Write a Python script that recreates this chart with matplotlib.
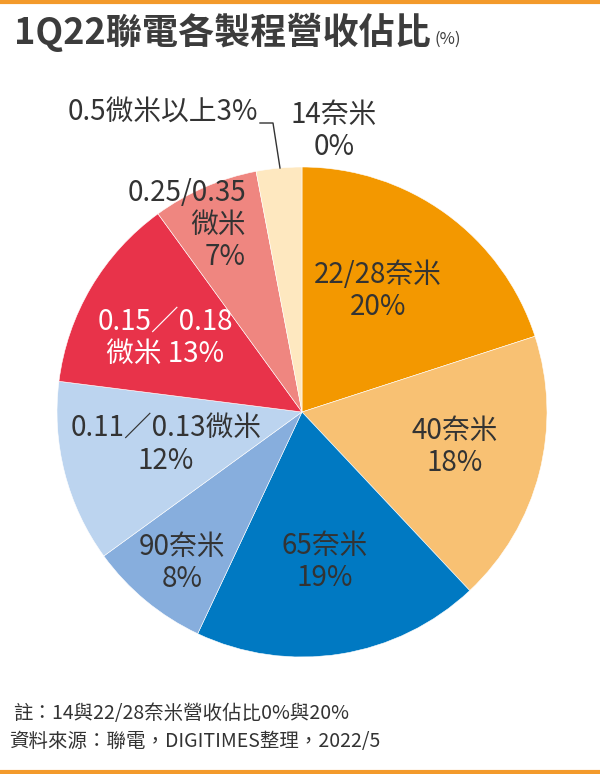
import matplotlib
matplotlib.use("Agg")
import matplotlib.pyplot as plt
from matplotlib.lines import Line2D

plt.rcParams['font.family'] = ['Noto Sans CJK TC', 'DejaVu Sans']

# data, clockwise from 12 o'clock
nodes = ['14奈米', '22/28奈米', '40奈米', '65奈米', '90奈米',
         '0.11／0.13微米', '0.15／0.18微米', '0.25/0.35微米', '0.5微米以上']
shares = [0, 20, 18, 19, 8, 12, 13, 7, 3]
label_texts = ['14奈米\n0%', '22/28奈米\n20%', '40奈米\n18%', '65奈米\n19%', '90奈米\n8%',
               '0.11／0.13微米\n12%', '0.15／0.18\n微米 13%', '0.25/0.35\n微米\n7%', '0.5微米以上3%']
colors = ['#FFFFFF', '#F39800', '#F8C173', '#0079C2', '#87AEDD',
          '#BCD4EF', '#E8334A', '#EF8680', '#FEE8C0']

W, H = 600, 774
CX, CY, R = 302, 412, 245

def px(x, y):
    # pixel position (from top-left) -> pie data coords
    return (x - CX) / R, (CY - y) / R

# label anchor pixels and styles
label_pos = [(334, 131), (378, 291), (455, 447), (325, 562), (182, 563),
             (166, 445), (165, 338), (246, 225), (163, 112)]
label_ha = ['center'] * 7 + ['right', 'center']
label_col = ['#333333'] * 6 + ['white', '#333333', '#333333']

fig = plt.figure(figsize=(W / 100, H / 100), dpi=100)
ax = fig.add_axes([(CX - R) / W, (H - CY - R) / H, 2 * R / W, 2 * R / H])
ax.pie(shares, colors=colors, startangle=90, counterclock=False, radius=1,
       wedgeprops=dict(edgecolor='white', linewidth=0.4))
ax.set_xlim(-1, 1)
ax.set_ylim(-1, 1)
ax.set_aspect('equal')
ax.axis('off')

for txt, pos, ha, col in zip(label_texts, label_pos, label_ha, label_col):
    x, y = px(*pos)
    ax.text(x, y, txt, ha=ha, va='center', multialignment=ha, fontsize=20,
            color=col, linespacing=1.1, clip_on=False)

# leader line for the 0.5 micron label
lx, ly = zip(px(260, 123), px(273, 123), px(280, 168))
ax.plot(lx, ly, color='#333333', lw=1, clip_on=False)

# title
fig.text(14 / W, 1 - 44 / H, '1Q22聯電各製程營收佔比', fontsize=26, fontweight='bold',
         color='#3C3C3C', va='baseline')
fig.text(434 / W, 1 - 44 / H, '(%)', fontsize=12, color='#3C3C3C', va='baseline')

# notes
fig.text(13 / W, 1 - 713 / H, '註：14與22/28奈米營收佔比0%與20%', fontsize=14,
         color='#333333', va='center')
fig.text(9 / W, 1 - 742 / H, '資料來源：聯電，DIGITIMES整理，2022/5', fontsize=14,
         color='#333333', va='center')

# orange rules top and bottom
fig.add_artist(Line2D([0, 1], [1 - 1.5 / H, 1 - 1.5 / H], color='#F39A2B', lw=3,
                      transform=fig.transFigure))
fig.add_artist(Line2D([0, 1], [2 / H, 2 / H], color='#F39A2B', lw=3,
                      transform=fig.transFigure))

fig.savefig('out.png', dpi=100)
